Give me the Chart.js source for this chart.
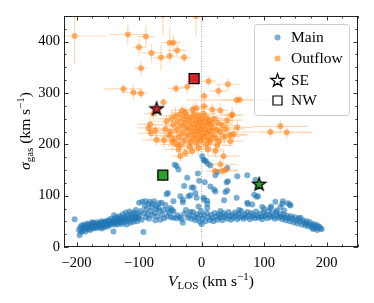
<!DOCTYPE html>
<html><head><meta charset="utf-8">
<script src="https://cdn.jsdelivr.net/npm/chart.js@4/dist/chart.umd.min.js"></script>
<style>html,body{margin:0;padding:0;background:#fff}canvas{display:block}</style>
</head><body>
<canvas id="c" width="374" height="303"></canvas>
<script>
// ---------------- data ----------------
const xTickValues = [-200, -100, 0, 100, 200];
const yTickValues = [0, 100, 200, 300, 400];

const mainV = [
-203,-195,-196,-194,-193,-192,-191,-190,-189,-188,
-187,-186,-185,-184,-183,-182,-181,-180,-179,-178,
-177,-176,-175,-174,-173,-172,-171,-170,-169,-168,
-167,-166,-165,-164,-163,-162,-161,-160,-159,-158,
-157,-156,-155,-154,-153,-152,-151,-150,-149,-148,
-147,-146,-145,-144,-141,-142,-141,-140,-139,-138,
-137,-136,-135,-134,-133,-132,-131,-130,-129,-128,
-127,-126,-125,-124,-123,-122,-121,-120,-119,-118,
-117,-116,-115,-114,-113,-112,-111,-110,-109,-108,
-107,-106,-105,-104,-103,-102,-101,-100,-99,-97,
-96,-95,-93,-92,-91,-90,-89,-88,-86,-85,
-84,-83,-82,-80,-79,-78,-76,-75,-74,-73,
-72,-71,-69,-68,-67,-66,-64,-63,-61,-60,
-58,-56,-55,-54,-52,-50,-49,-47,-45,-45,
-54,-45,-43,-40,-37,-34,-30,-30,-28,-25,
-23,-21,-18,-16,-13,-10,-8,-6,-5,-4,
-40,-38,-35,-32,-28,-22,-20,-16,-14,-12,
-10,-8,-6,-3,-2,-1,1,3,5,7,
10,14,22,25,22,20,14,5,9,4,
9,3,9,36,38,40,41,42,41,56,
57,73,74,84,86,88,89,90,97,111,
118,120,129,130,132,138,141,142,126,110,
81,73,0,2,4,6,8,11,13,15,
17,19,21,23,25,27,29,31,33,35,
37,39,41,43,45,47,49,51,53,55,
57,59,61,63,65,67,69,71,73,75,
77,79,81,83,85,87,89,91,93,95,
97,99,101,103,105,107,109,111,113,115,
117,119,121,123,125,127,129,131,133,135,
137,139,141,143,145,147,149,151,153,155,
157,158,160,162,164,166,168,169,171,173,
175,177,179,180,182,184,186,188,190,192,
185,178,-30,-18,30,60,100,-140,-160,-175
];
const mainSigma = [
54,23,33,38,29,42,35,31,40,44,
36,30,38,43,34,46,40,36,43,33,
40,46,38,42,36,47,41,38,44,37,
48,42,45,39,43,47,40,50,44,41,
47,38,49,45,42,51,47,40,45,52,
43,48,55,46,30,50,44,53,48,57,
46,51,44,56,49,60,47,53,58,45,
51,64,55,48,58,52,67,44,56,62,
50,55,69,47,59,64,53,57,49,67,
60,54,72,58,50,65,56,86,62,70,
53,88,29,66,80,89,58,74,64,84,
55,88,70,78,62,84,89,66,52,74,
80,60,76,85,70,53,86,64,72,56,
82,103,60,72,66,76,58,72,57,69,
105,89,160,158,151,99,92,87,119,72,
135,99,101,116,116,105,96,143,79,129,
56,62,58,54,65,57,62,55,68,59,
52,64,57,49,62,70,177,170,168,167,
162,159,140,146,108,112,118,126,84,92,
90,96,76,91,107,126,154,128,110,96,
138,140,84,102,131,98,117,99,78,79,
88,71,84,89,71,85,83,81,78,76,
83,86,45,55,62,50,66,58,52,63,
56,50,66,59,53,64,57,61,52,66,
58,62,55,68,60,53,63,57,67,61,
54,65,58,70,60,55,64,58,68,61,
54,66,59,63,56,69,60,57,65,59,
54,67,60,63,56,70,62,58,66,60,
55,68,61,57,65,59,54,63,58,52,
61,56,50,60,55,48,58,52,46,56,
50,57,44,52,47,42,50,45,40,48,
43,38,45,41,36,43,39,40,36,35,
33,35,47,68,70,72,74,62,36,48
];

const outV = [
-203,-118,-89,-100,-80,-65,-51,-45,-39,-28,
-51,-97,-62,-9,-125,-109,-97,-41,-23,11,
4,-61,42,27,56,61,48,-77,-82,-85,
-74,-81,-72,49,30,17,-9,4,57,51,
46,110,126,136,35,-15,-26,-34,22,30,
21,33,38,
-48,-45,-42,-40,-38,-36,-35,-33,-31,-30,
-28,-27,-25,-24,-22,-21,-20,-18,-17,-16,
-15,-13,-12,-11,-10,-9,-8,-7,-6,-5,
-4,-3,-2,-1,0,1,2,3,4,5,
6,7,8,9,10,11,12,13,14,15,
17,18,20,22,24,26,28,30,33,36,
-44,-40,-34,-26,-19,-50,-47,39,41,-56,
-58,-52,-60,45,-31,-14,25,-37,-5,10
];
const outSigma = [
411,414,410,389,378,369,398,398,383,369,
372,348,452,450,308,301,299,309,312,323,
294,282,317,304,286,287,256,260,239,232,
227,222,209,258,266,268,271,274,233,220,
206,224,235,223,177,187,183,177,187,161,
148,148,150,
250,238,255,228,245,215,258,236,222,250,
207,241,230,255,217,246,233,205,252,224,
240,212,258,232,219,247,203,238,226,255,
213,243,230,208,250,221,236,260,215,244,
229,200,252,222,238,210,246,227,205,240,
218,232,250,212,228,242,206,224,237,215,
210,200,198,262,196,224,205,230,247,245,
230,217,208,218,266,268,198,190,193,190
];
const outVErr = [
50,30,14,10,18,12,15,12,15,10,
12,10,60,55,30,18,10,12,12,12,
8,8,20,15,80,30,15,15,20,18,
15,20,15,18,12,10,10,8,25,20,
20,65,45,40,25,12,12,15,15,25,
10,25,20,
25,30,20,25,15,30,18,22,35,20,
25,15,20,25,30,18,22,25,15,40,
20,18,25,15,30,20,22,35,18,15,
25,20,28,18,22,30,15,20,25,18,
40,22,18,25,20,30,15,22,25,35,
20,25,18,30,22,20,25,40,20,25,
30,25,20,22,25,35,30,30,25,20,
25,30,35,30,18,15,25,22,20,25
];
const outSigmaErr = [
55,20,22,16,18,25,30,16,12,10,
14,14,40,40,10,15,10,10,12,10,
10,8,12,12,10,8,12,15,15,12,
12,10,12,15,15,12,12,15,15,12,
10,10,12,12,10,10,8,10,10,10,
8,8,8,
15,12,18,15,12,20,10,15,12,15,
18,12,20,10,15,12,18,12,15,12,
10,15,12,20,12,15,10,18,12,15,
12,20,12,15,10,18,12,15,12,18,
12,15,10,18,12,15,12,20,12,15,
12,18,12,15,12,15,12,18,12,15,
15,12,15,12,15,12,18,12,15,12,
15,12,15,12,10,12,15,12,15,12
];

// SE (stars) and NW (squares): first = outflow (red), second = main (green)
const seV = [-72, 92];
const seSigma = [270, 123];
const nwV = [-12, -62];
const nwSigma = [328, 140];
const regionColors = ['#d62728', '#2ca02c'];

const legendLabels = ['Main', 'Outflow', 'SE', 'NW'];

// ---------------- helpers ----------------
const SERIF = "'Liberation Serif', 'DejaVu Serif', serif";
const BLUE = 'rgba(31,119,180,0.6)';
const ORANGE = 'rgba(255,127,14,0.6)';
const ORANGE_ERR = 'rgba(255,127,14,0.3)';

function starPath(g, cx, cy, R, r) {
  g.beginPath();
  for (let k = 0; k < 10; k++) {
    const rad = k % 2 === 0 ? R : r;
    const a = -Math.PI / 2 + k * Math.PI / 5;
    const px = cx + rad * Math.cos(a), py = cy + rad * Math.sin(a);
    if (k === 0) g.moveTo(px, py); else g.lineTo(px, py);
  }
  g.closePath();
}
function makeStar(fill, R) {
  const s = Math.ceil(2 * R + 4);
  const c = document.createElement('canvas');
  c.width = s; c.height = s;
  const g = c.getContext('2d');
  starPath(g, s / 2, s / 2 + 0.6, R, R * 0.382);
  g.fillStyle = fill; g.fill();
  g.lineWidth = 1.2; g.strokeStyle = '#000'; g.lineJoin = 'miter'; g.stroke();
  return c;
}
const starImgs = regionColors.map(c => makeStar(c, 7));

const hErr = [], vErr = [];
outV.forEach((v, i) => {
  const s = outSigma[i];
  hErr.push({x: v - outVErr[i], y: s}, {x: v + outVErr[i], y: s}, {x: v, y: null});
  vErr.push({x: v, y: s - outSigmaErr[i]}, {x: v, y: s + outSigmaErr[i]}, {x: v, y: null});
});

function fmt(v) { return v < 0 ? '\u2212' + Math.abs(v) : String(v); }

function stepTicks(s) {
  const out = [];
  for (let v = Math.ceil(s.min / 25) * 25; v <= s.max + 1e-9; v += 25) out.push({value: v});
  s.ticks = out;
}

function drawRuns(ctx, runs, cx, cy) {
  let w = 0;
  runs.forEach(r => {
    ctx.font = (r.it ? 'italic ' : '') + r.size + 'px ' + SERIF;
    r.w = ctx.measureText(r.t).width; w += r.w;
  });
  let x = cx - w / 2;
  runs.forEach(r => {
    ctx.font = (r.it ? 'italic ' : '') + r.size + 'px ' + SERIF;
    ctx.fillText(r.t, x, cy + (r.dy || 0));
    x += r.w;
  });
}

const decor = {
  id: 'decor',
  afterDraw(chart) {
    const ctx = chart.ctx, a = chart.chartArea;
    const xs = chart.scales.x, ys = chart.scales.y;
    ctx.save();
    // inward ticks on all sides
    ctx.strokeStyle = '#000'; ctx.lineWidth = 0.8;
    ctx.beginPath();
    xs.ticks.forEach(t => {
      const p = Math.round(xs.getPixelForValue(t.value)) + 0.5;
      const L = t.value % 100 === 0 ? 4.5 : 2.5;
      ctx.moveTo(p, a.bottom); ctx.lineTo(p, a.bottom - L);
      ctx.moveTo(p, a.top); ctx.lineTo(p, a.top + L);
    });
    ys.ticks.forEach(t => {
      const p = Math.round(ys.getPixelForValue(t.value)) + 0.5;
      const L = t.value % 100 === 0 ? 4.5 : 2.5;
      ctx.moveTo(a.left, p); ctx.lineTo(a.left + L, p);
      ctx.moveTo(a.right, p); ctx.lineTo(a.right - L, p);
    });
    ctx.stroke();
    // frame
    ctx.lineWidth = 1; ctx.strokeStyle = '#222';
    ctx.strokeRect(a.left + 0.5, a.top + 0.5, a.right - a.left - 1, a.bottom - a.top - 1);

    // legend
    const bx = 254, by = 24, bw = 95, bh = 91;
    ctx.beginPath();
    ctx.roundRect(bx + 0.5, by + 0.5, bw, bh, 3);
    ctx.fillStyle = 'rgba(255,255,255,0.8)'; ctx.fill();
    ctx.strokeStyle = '#cccccc'; ctx.lineWidth = 1; ctx.stroke();
    const mx = 277.5, tx = 291, rows = [37.5, 58.5, 80, 100.5];
    ctx.fillStyle = BLUE; ctx.beginPath(); ctx.arc(mx, rows[0], 3, 0, Math.PI * 2); ctx.fill();
    ctx.fillStyle = ORANGE; ctx.beginPath(); ctx.arc(mx, rows[1], 3, 0, Math.PI * 2); ctx.fill();
    starPath(ctx, mx, rows[2] + 0.6, 7, 7 * 0.382);
    ctx.fillStyle = '#fff'; ctx.fill(); ctx.lineWidth = 1.2; ctx.strokeStyle = '#000'; ctx.stroke();
    ctx.beginPath(); ctx.rect(mx - 4.5, rows[3] - 4.5, 9, 9);
    ctx.fillStyle = '#fff'; ctx.fill(); ctx.stroke();
    ctx.fillStyle = '#000'; ctx.textBaseline = 'middle'; ctx.textAlign = 'left';
    ctx.font = '15.5px ' + SERIF;
    legendLabels.forEach((l, i) => ctx.fillText(l, tx, rows[i] + 0.5));

    // axis titles
    ctx.textBaseline = 'alphabetic';
    drawRuns(ctx, [
      {t: 'V', size: 15.5, it: true},
      {t: 'LOS', size: 11, dy: 3},
      {t: ' (km s', size: 15.5},
      {t: '\u22121', size: 11, dy: -6},
      {t: ')', size: 15.5}
    ], 211, 286);
    ctx.translate(30, 131);
    ctx.rotate(-Math.PI / 2);
    drawRuns(ctx, [
      {t: '\u03c3', size: 15.5, it: true},
      {t: 'gas', size: 11, dy: 3},
      {t: ' (km s', size: 15.5},
      {t: '\u22121', size: 11, dy: -6},
      {t: ')', size: 15.5}
    ], 0, 0);
    ctx.restore();
  }
};

const tickFont = {family: SERIF, size: 14.5};

new Chart(document.getElementById('c'), {
  type: 'scatter',
  data: {
    datasets: [
      {label: 'SE', data: seV.map((v, i) => ({x: v, y: seSigma[i]})),
       pointStyle: starImgs, pointRadius: 7, order: 0},
      {label: 'NW', data: nwV.map((v, i) => ({x: v, y: nwSigma[i]})),
       pointStyle: 'rect', pointRadius: 7, backgroundColor: regionColors,
       borderColor: '#000', borderWidth: 1.3, order: 0},
      {label: 'Outflow', data: outV.map((v, i) => ({x: v, y: outSigma[i]})),
       pointRadius: 3, backgroundColor: ORANGE, borderWidth: 0, order: 1, clip: 0},
      {label: 'errH', data: hErr, showLine: true, spanGaps: false, pointRadius: 0,
       borderColor: ORANGE_ERR, borderWidth: 1.2, order: 2, clip: 0},
      {label: 'errV', data: vErr, showLine: true, spanGaps: false, pointRadius: 0,
       borderColor: ORANGE_ERR, borderWidth: 1.2, order: 2, clip: 0},
      {label: 'Main', data: mainV.map((v, i) => ({x: v, y: mainSigma[i]})),
       pointRadius: 3, backgroundColor: BLUE, borderWidth: 0, order: 3, clip: 0},
      {label: 'zero', data: [{x: 0, y: 0}, {x: 0, y: 450}], showLine: true, pointRadius: 0,
       borderColor: '#888', borderWidth: 0.8, borderDash: [1, 1.5], order: 4, clip: 0}
    ]
  },
  options: {
    responsive: false,
    animation: false,
    devicePixelRatio: 1,
    events: [],
    layout: {padding: {left: 24, right: 16, top: 16, bottom: 26}},
    plugins: {legend: {display: false}, tooltip: {enabled: false}},
    scales: {
      x: {
        type: 'linear', min: -220, max: 250,
        grid: {display: false, drawTicks: false},
        border: {display: false},
        afterBuildTicks: stepTicks,
        afterFit: s => { s.height = 30; },
        ticks: {stepSize: 25, autoSkip: false, maxRotation: 0, minRotation: 0, padding: 7,
          color: '#000', font: tickFont,
          callback: v => xTickValues.includes(v) ? fmt(v) : ''}
      },
      y: {
        type: 'linear', min: 0, max: 450,
        grid: {display: false, drawTicks: false},
        border: {display: false},
        afterBuildTicks: stepTicks,
        afterFit: s => { s.width = 40; },
        ticks: {stepSize: 25, autoSkip: false, padding: 4, color: '#000', font: tickFont,
          callback: v => yTickValues.includes(v) ? fmt(v) : ''}
      }
    }
  },
  plugins: [decor]
});
</script>
</body></html>
